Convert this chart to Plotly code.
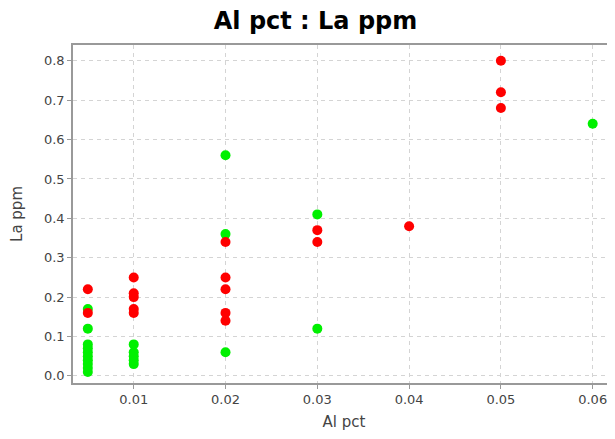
import plotly.graph_objects as go

# Red series
red_x = [0.005, 0.005, 0.01, 0.01, 0.01, 0.01, 0.01,
         0.02, 0.02, 0.02, 0.02, 0.02, 0.03, 0.03, 0.04, 0.05, 0.05, 0.05]
red_y = [0.22, 0.16, 0.25, 0.21, 0.20, 0.17, 0.16,
         0.34, 0.25, 0.22, 0.16, 0.14, 0.37, 0.34, 0.38, 0.80, 0.72, 0.68]

# Green series
green_x = [0.005, 0.005, 0.005, 0.005, 0.005, 0.005, 0.005, 0.005, 0.005, 0.005,
           0.01, 0.01, 0.01, 0.01, 0.01,
           0.02, 0.02, 0.02, 0.03, 0.03, 0.06]
green_y = [0.17, 0.12, 0.08, 0.07, 0.06, 0.05, 0.04, 0.03, 0.02, 0.01,
           0.08, 0.06, 0.05, 0.04, 0.03,
           0.56, 0.36, 0.06, 0.41, 0.12, 0.64]

x_ticks = [0.01, 0.02, 0.03, 0.04, 0.05, 0.06]
y_ticks = [0.0, 0.1, 0.2, 0.3, 0.4, 0.5, 0.6, 0.7, 0.8]

FONT = "DejaVu Sans, Liberation Sans, Arial, sans-serif"

# The page body has an 8px default margin, so the figure is offset by 8px.
W, H = 615, 423

fig = go.Figure()
fig.add_trace(go.Scatter(x=green_x, y=green_y, mode="markers",
                         marker=dict(color="#00f000", size=10, line=dict(width=0)),
                         showlegend=False))
fig.add_trace(go.Scatter(x=red_x, y=red_y, mode="markers",
                         marker=dict(color="#ff0000", size=10, line=dict(width=0)),
                         showlegend=False))

axis_common = dict(
    showgrid=True, gridcolor="#d4d4d4", griddash="4px,4px", gridwidth=1,
    zeroline=False, showline=True, linecolor="#999999", linewidth=1.5,
    ticks="outside", ticklen=4, tickcolor="#999999", automargin=False,
    tickfont=dict(family=FONT, size=13, color="#444444"),
)

fig.update_layout(
    width=W, height=H,
    paper_bgcolor="white", plot_bgcolor="white",
    margin=dict(l=65, r=8, t=37, b=48),
    title=dict(text="<b>Al pct : La ppm</b>", x=0.5, xanchor="center",
               yref="container", y=1 - 13 / H, yanchor="middle",
               font=dict(family=FONT, size=24, color="black")),
    xaxis=dict(range=[0.003384, 0.06243], tickvals=x_ticks, ticktext=[str(v) for v in x_ticks],
               mirror=True,
               title=dict(text="Al pct", standoff=13,
                          font=dict(family=FONT, size=15, color="#444444")),
               **axis_common),
    yaxis=dict(range=[-0.018, 0.840], tickvals=y_ticks, ticktext=[f"{v:.1f}" for v in y_ticks],
               mirror=False,
               title=dict(text="La ppm", standoff=18,
                          font=dict(family=FONT, size=15, color="#444444")),
               **axis_common),
)

fig.write_html("out.html")
